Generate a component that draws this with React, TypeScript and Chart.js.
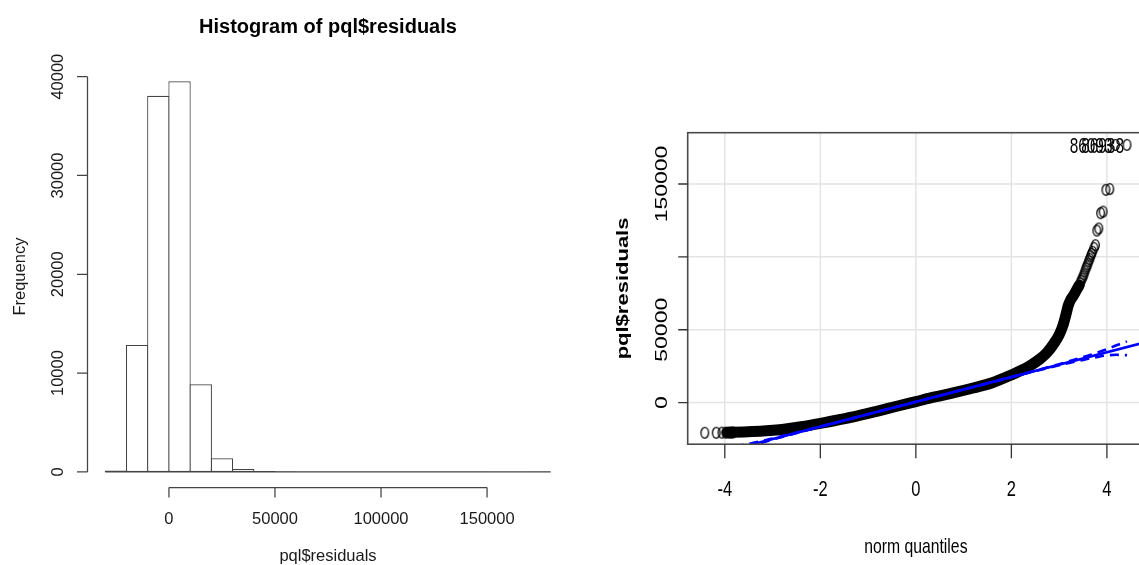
import React, { useEffect, useRef } from "react";
import { Chart, registerables } from "chart.js";

Chart.register(...registerables);

// ---------- Histogram data ----------
const histBreaks = [
  -30000, -20000, -10000, 0, 10000, 20000, 30000, 40000, 50000, 60000, 70000,
  80000, 90000, 100000, 110000, 120000, 130000, 140000, 150000, 160000, 170000, 180000,
];
const histCounts = [
  150, 12850, 38070, 39530, 8870, 1380, 300, 100, 45, 20, 10, 6, 4, 6, 2, 2, 2, 2, 0, 0, 2,
];
const histYTicks = [0, 10000, 20000, 30000, 40000];
const histXTicks = [0, 50000, 100000, 150000];
const histTitle = "Histogram of pql$residuals";
const histXLabel = "pql$residuals";
const histYLabel = "Frequency";

// ---------- QQ plot data ----------
const qqBandQ = [
  -3.95, -3.6, -3.2, -2.8, -2.4, -2.0, -1.6, -1.2, -0.8, -0.4, 0, 0.4, 0.8, 1.2, 1.6,
  2.0, 2.2, 2.4, 2.6, 2.75, 2.9, 3.0, 3.08, 3.14, 3.19, 3.24, 3.3, 3.36, 3.42,
];
const qqBandV = [
  -20500, -20100, -19500, -18400, -16600, -14300, -11700, -8900, -5800, -2500, 700, 3900,
  6800, 10000, 13600, 19000, 22000, 25500, 30000, 34500, 41000, 46500, 53000, 60000,
  66500, 70500, 73500, 77000, 80500,
];
const qqPointQ = [
  -4.42, -4.18, -4.06, -3.98, -3.92, -3.87, -3.83,
  3.44, 3.46, 3.48, 3.5, 3.52, 3.54, 3.56, 3.58, 3.6, 3.62, 3.64, 3.66, 3.68, 3.7,
  3.73, 3.76, 3.79, 3.83, 3.87, 3.92, 3.98, 4.06, 4.18, 4.42,
];
const qqPointV = [
  -20700, -20700, -20600, -20600, -20550, -20550, -20500,
  82000, 83500, 85000, 86500, 88000, 90000, 92000, 93500, 95000, 97000, 98500, 100500,
  102000, 103500, 106000, 108000, 118000, 119500, 130000, 131000, 146000, 146500,
  176800, 176800,
];
const qqRefQ = [-5, 5];
const qqRefV = [-42000, 43000];
const qqEnvQ = [-4.42, -4.0, -3.5, -3.0, -2.0, 0, 2.0, 3.0, 3.5, 3.8, 4.0, 4.2, 4.42];
const qqEnvUpper = [-32000, -31000, -28300, -24600, -16400, 550, 17600, 26400, 31200, 34300, 36600, 39300, 42000];
const qqEnvLower = [-42100, -36000, -30200, -25400, -16600, 450, 17400, 25600, 29300, 31300, 32400, 32800, 32500];
const qqIdQ = [4.18, 4.42];
const qqIdV = [176800, 176800];
const qqIdLabels = ["86093", "86938"];
const qqXTicks = [-4, -2, 0, 2, 4];
const qqXTickLabels = ["-4", "-2", "0", "2", "4"];
const qqYTicks = [0, 50000, 100000, 150000];
const qqYTickLabels = ["0", "50000", "", "150000"];
const qqXLabel = "norm quantiles";
const qqYLabel = "pql$residuals";

const FONT = '"Liberation Sans", Arial, sans-serif';

function drawText(
  ctx: CanvasRenderingContext2D,
  s: string,
  x: number,
  y: number,
  font: string,
  opts: { align?: CanvasTextAlign; baseline?: CanvasTextBaseline; rot?: boolean; sx?: number; color?: string } = {}
) {
  ctx.save();
  ctx.translate(x, y);
  ctx.scale(opts.sx ?? 1, 1);
  if (opts.rot) ctx.rotate(-Math.PI / 2);
  ctx.font = font;
  ctx.fillStyle = opts.color ?? "#000";
  ctx.textAlign = opts.align ?? "center";
  ctx.textBaseline = opts.baseline ?? "alphabetic";
  ctx.fillText(s, 0, 0);
  ctx.restore();
}

function makeEllipse(): HTMLCanvasElement {
  const c = document.createElement("canvas");
  c.width = 11;
  c.height = 14;
  const g = c.getContext("2d")!;
  g.strokeStyle = "#000";
  g.lineWidth = 1.3;
  g.beginPath();
  g.ellipse(5.5, 7, 3.8, 5.3, 0, 0, Math.PI * 2);
  g.stroke();
  return c;
}

const histPlugin = {
  id: "histAxes",
  afterDatasetsDraw(chart: any) {
    const { ctx, chartArea: a } = chart;
    const x = chart.scales.x;
    const y = chart.scales.y;
    ctx.save();
    ctx.strokeStyle = "#444";
    ctx.lineWidth = 1.25;
    const y0 = y.getPixelForValue(0);
    ctx.beginPath();
    ctx.moveTo(x.getPixelForValue(histBreaks[0]), y0);
    ctx.lineTo(x.getPixelForValue(histBreaks[histBreaks.length - 1]), y0);
    ctx.stroke();
    const ax = a.left;
    ctx.beginPath();
    ctx.moveTo(ax, y.getPixelForValue(histYTicks[0]));
    ctx.lineTo(ax, y.getPixelForValue(histYTicks[histYTicks.length - 1]));
    histYTicks.forEach((v) => {
      const py = y.getPixelForValue(v);
      ctx.moveTo(ax, py);
      ctx.lineTo(ax - 10.5, py);
    });
    ctx.stroke();
    histYTicks.forEach((v) => {
      drawText(ctx, String(v), ax - 24.2, y.getPixelForValue(v), `16.5px ${FONT}`, { rot: true, color: "#1a1a1a" });
    });
    const ay = a.bottom;
    ctx.beginPath();
    ctx.moveTo(x.getPixelForValue(histXTicks[0]), ay);
    ctx.lineTo(x.getPixelForValue(histXTicks[histXTicks.length - 1]), ay);
    histXTicks.forEach((v) => {
      const px = x.getPixelForValue(v);
      ctx.moveTo(px, ay);
      ctx.lineTo(px, ay + 10);
    });
    ctx.stroke();
    histXTicks.forEach((v) => {
      drawText(ctx, String(v), x.getPixelForValue(v), ay + 36.5, `16.5px ${FONT}`, { color: "#1a1a1a" });
    });
    const cx = (a.left + a.right) / 2;
    drawText(ctx, histTitle, cx, 33.3, `bold 20px ${FONT}`);
    drawText(ctx, histXLabel, cx, ay + 73, `16.5px ${FONT}`, { color: "#1a1a1a" });
    drawText(ctx, histYLabel, 25, (a.top + a.bottom) / 2, `16.5px ${FONT}`, { rot: true, color: "#1a1a1a" });
    ctx.restore();
  },
};

const SQ = 0.75;

const qqPlugin = {
  id: "qqAxes",
  beforeDatasetsDraw(chart: any) {
    const { ctx, chartArea: a } = chart;
    const x = chart.scales.x;
    const y = chart.scales.y;
    ctx.save();
    ctx.strokeStyle = "#e4e4e4";
    ctx.lineWidth = 1.5;
    ctx.beginPath();
    qqXTicks.forEach((v) => {
      const px = x.getPixelForValue(v);
      ctx.moveTo(px, a.top);
      ctx.lineTo(px, a.bottom);
    });
    qqYTicks.forEach((v) => {
      const py = y.getPixelForValue(v);
      ctx.moveTo(a.left, py);
      ctx.lineTo(a.right, py);
    });
    ctx.stroke();
    ctx.restore();
  },
  afterDatasetsDraw(chart: any) {
    const { ctx, chartArea: a } = chart;
    const x = chart.scales.x;
    const y = chart.scales.y;
    ctx.save();
    ctx.strokeStyle = "#4a4a4a";
    ctx.lineWidth = 1.6;
    ctx.strokeRect(a.left, a.top, a.right - a.left, a.bottom - a.top);
    ctx.strokeStyle = "#333";
    ctx.lineWidth = 1.3;
    ctx.beginPath();
    qqXTicks.forEach((v) => {
      const px = x.getPixelForValue(v);
      ctx.moveTo(px, a.bottom);
      ctx.lineTo(px, a.bottom + 14);
    });
    qqYTicks.forEach((v) => {
      const py = y.getPixelForValue(v);
      ctx.moveTo(a.left, py);
      ctx.lineTo(a.left - 9.5, py);
    });
    ctx.stroke();
    qqXTicks.forEach((v, i) => {
      drawText(ctx, qqXTickLabels[i], x.getPixelForValue(v), a.bottom + 52, `22px ${FONT}`, { sx: SQ });
    });
    qqYTicks.forEach((v, i) => {
      if (qqYTickLabels[i]) {
        drawText(ctx, qqYTickLabels[i], a.left - 21, y.getPixelForValue(v), `23px ${FONT}`, { rot: true, sx: SQ });
      }
    });
    drawText(ctx, qqXLabel, (a.left + a.right) / 2, a.bottom + 109, `21px ${FONT}`, { sx: SQ });
    drawText(ctx, qqYLabel, a.left - 60, (a.top + a.bottom) / 2, `bold 22px ${FONT}`, { rot: true, sx: SQ });
    qqIdQ.forEach((q, i) => {
      const px = x.getPixelForValue(q);
      const py = y.getPixelForValue(qqIdV[i]);
      drawText(ctx, qqIdLabels[i], px - 3, py + 7.8, `22px ${FONT}`, { align: "right", sx: 0.7 });
    });
    ctx.restore();
  },
};

export default function App() {
  const leftRef = useRef<HTMLCanvasElement | null>(null);
  const rightRef = useRef<HTMLCanvasElement | null>(null);

  useEffect(() => {
    const centers = histCounts.map((_, i) => (histBreaks[i] + histBreaks[i + 1]) / 2);
    const yMaxCount = Math.max(...histCounts);
    const xSpan = histBreaks[histBreaks.length - 1] - histBreaks[0];
    const left = new Chart(leftRef.current!, {
      type: "bar",
      data: {
        datasets: [
          {
            data: centers.map((c, i) => ({ x: c, y: histCounts[i] })),
            backgroundColor: "#ffffff",
            borderColor: "#444",
            borderWidth: 1.2,
            borderSkipped: false,
            barPercentage: 1.055,
            categoryPercentage: 1,
          } as any,
        ],
      },
      options: {
        responsive: false,
        animation: false,
        events: [],
        layout: { padding: { left: 87.5, right: 1.5, top: 65.7, bottom: 77.5 } },
        plugins: { legend: { display: false }, tooltip: { enabled: false }, title: { display: false } },
        scales: {
          x: {
            type: "linear",
            display: false,
            offset: false,
            min: histBreaks[0] - 0.04 * xSpan,
            max: histBreaks[histBreaks.length - 1] + 0.04 * xSpan,
            ticks: { stepSize: 50000 },
          },
          y: { display: false, min: -0.04 * yMaxCount, max: yMaxCount * 1.04 },
        },
      },
      plugins: [histPlugin],
    });

    const ell = makeEllipse();
    const right = new Chart(rightRef.current!, {
      type: "scatter",
      data: {
        datasets: [
          {
            data: qqRefQ.map((q, i) => ({ x: q, y: qqRefV[i] })),
            showLine: true,
            borderColor: "#0000ff",
            borderWidth: 2.6,
            pointRadius: 0,
          },
          {
            data: qqEnvQ.map((q, i) => ({ x: q, y: qqEnvUpper[i] })),
            showLine: true,
            borderColor: "#0000ff",
            borderWidth: 2.6,
            borderDash: [9, 6],
            pointRadius: 0,
            cubicInterpolationMode: "monotone",
          },
          {
            data: qqEnvQ.map((q, i) => ({ x: q, y: qqEnvLower[i] })),
            showLine: true,
            borderColor: "#0000ff",
            borderWidth: 2.6,
            borderDash: [9, 6],
            pointRadius: 0,
            cubicInterpolationMode: "monotone",
          },
          {
            data: qqPointQ.map((q, i) => ({ x: q, y: qqPointV[i] })),
            showLine: false,
            pointStyle: ell as any,
            pointRadius: 5,
          },
          {
            data: qqBandQ.map((q, i) => ({ x: q, y: qqBandV[i] })),
            showLine: true,
            borderColor: "#000",
            borderWidth: 11,
            borderCapStyle: "round",
            borderJoinStyle: "round",
            cubicInterpolationMode: "monotone",
            pointRadius: 0,
          },
        ] as any,
      },
      options: {
        responsive: false,
        animation: false,
        events: [],
        layout: { padding: { left: 117.7, right: 5.1, top: 132.7, bottom: 120.8 } },
        plugins: { legend: { display: false }, tooltip: { enabled: false }, title: { display: false } },
        scales: {
          x: { type: "linear", display: false, min: -4.777, max: 4.777 },
          y: { type: "linear", display: false, min: -28533, max: 185185 },
        },
      },
      plugins: [qqPlugin],
    });

    return () => {
      left.destroy();
      right.destroy();
    };
  }, []);

  return (
    <div
      style={{
        position: "fixed",
        left: 0,
        top: 0,
        width: 1139,
        height: 565,
        overflow: "hidden",
        background: "#fff",
      }}
    >
      <canvas
        ref={leftRef}
        width={570}
        height={565}
        style={{ position: "absolute", left: 0, top: 0, width: 570, height: 565 }}
      />
      <canvas
        ref={rightRef}
        width={580}
        height={565}
        style={{ position: "absolute", left: 570, top: 0, width: 580, height: 565 }}
      />
    </div>
  );
}
